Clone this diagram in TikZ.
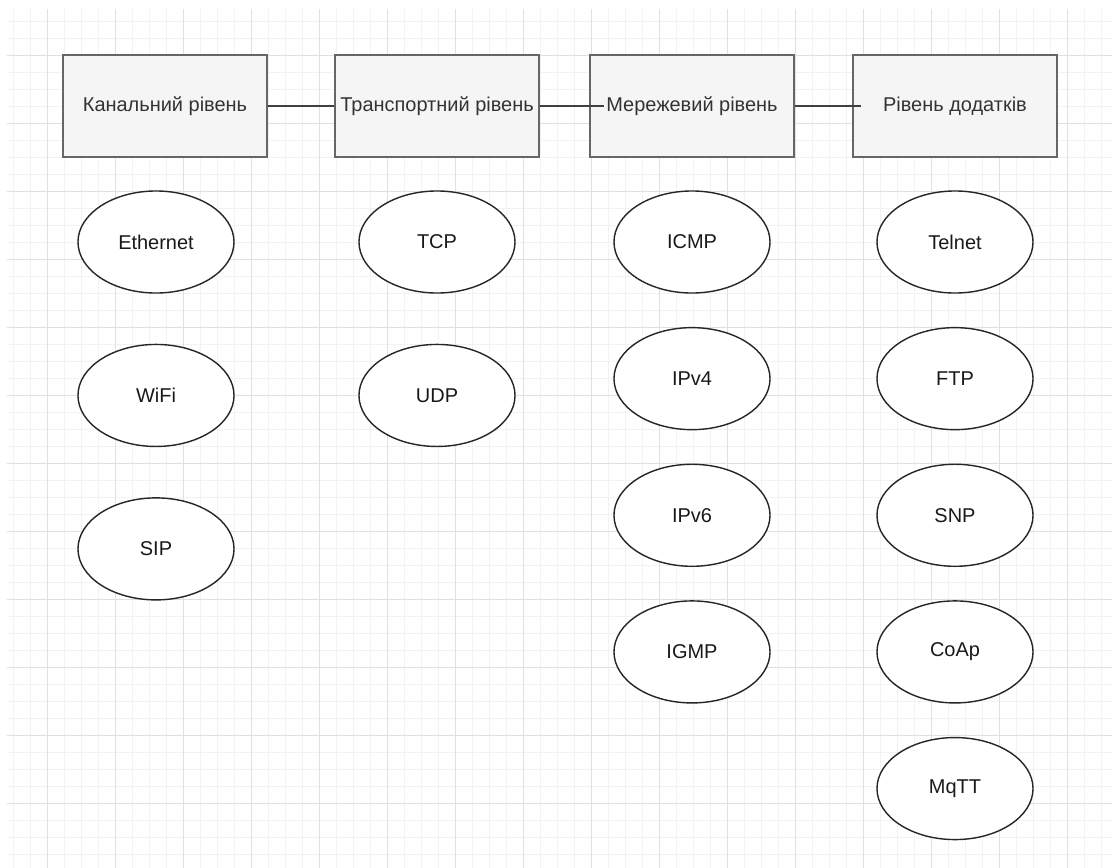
\documentclass[tikz,border=0pt]{standalone}
\usepackage{fontspec}
\setmainfont{Liberation Sans}
\usetikzlibrary{shapes.geometric, positioning}
\definecolor{boxfill}{HTML}{F5F5F5}
\definecolor{boxline}{HTML}{666666}
\definecolor{gridminor}{HTML}{F2F2F2}
\definecolor{gridmajor}{HTML}{E0E0E0}

\begin{document}
\begin{tikzpicture}[x=0.025cm, y=-0.025cm, node distance=1.3cm,
        font=\fontsize{14.2}{16}\selectfont,
        level/.style={draw=boxline, fill=boxfill, rectangle, line width=1.2pt, minimum width=5.1cm, minimum height=2.55cm, inner sep=0pt, text=black!80},
        proto/.style={draw=black!85, fill=white, ellipse, line width=1pt, minimum width=3.9cm, minimum height=2.55cm, inner sep=0pt, text=black!90},
        link/.style={draw=black!75, line width=1.2pt}]

        % фон і сітка
        \useasboundingbox[fill=white] (0,0) rectangle (1112,868);
        \foreach \gx in {13,30,...,1112} \draw[gridminor, line width=0.7pt] (\gx,9) -- (\gx,868);
        \foreach \gy in {21,38,...,868} \draw[gridminor, line width=0.7pt] (7,\gy) -- (1112,\gy);
        \foreach \gx in {47,115,...,1112} \draw[gridmajor, line width=0.7pt] (\gx,9) -- (\gx,868);
        \foreach \gy in {55,123,...,868} \draw[gridmajor, line width=0.7pt] (7,\gy) -- (1112,\gy);

        % рівні
        \node [level] (kanal) at (165,106) {Канальний рівень};
        \node [level, right=1.657cm of kanal] (transp) {Транспортний рівень};
        \node [level, right=1.23cm of transp] (merezh) {Мережевий рівень};
        \node [level, right=1.43cm of merezh] (dodat) {Рівень додатків};

        % протоколи
        \node [proto] (ethernet) at (156,242) {Ethernet};
        \node [proto, below=1.25cm of ethernet] (wifi) {WiFi};
        \node [proto, below=1.25cm of wifi] (sip) {SIP};

        \node [proto] (tcp) at (437,242) {TCP};
        \node [proto, below=1.25cm of tcp] (udp) {UDP};

        \node [proto] (icmp) at (692,242) {ICMP};
        \node [proto, below=0.83cm of icmp] (ipv4) {IPv4};
        \node [proto, below=0.83cm of ipv4] (ipv6) {IPv6};
        \node [proto, below=0.83cm of ipv6] (igmp) {IGMP};

        \node [proto] (telnet) at (955,242) {Telnet};
        \node [proto, below=0.83cm of telnet] (ftp) {FTP};
        \node [proto, below=0.83cm of ftp] (snp) {SNP};
        \node [proto, below=0.83cm of snp] (coap) {CoAp};
        \node [proto, below=0.83cm of coap] (mqtt) {MqTT};

        % з'єднання
        \path [link] (kanal) -- (transp);
        \path [link] (transp) -- ([xshift=0.375cm]merezh.west);
        \path [link] (merezh) -- ([xshift=0.225cm]dodat.west);
    \end{tikzpicture}
\end{document}
